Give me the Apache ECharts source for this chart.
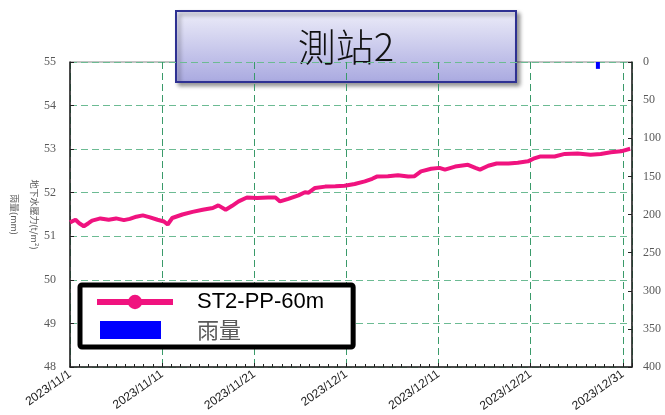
<!DOCTYPE html>
<html>
<head>
<meta charset="utf-8">
<script src="https://cdn.jsdelivr.net/npm/echarts@6/dist/echarts.min.js"></script>
<style>
  html, body { margin: 0; padding: 0; background: #fff; }
  #chart { width: 665px; height: 415px; }
</style>
</head>
<body>
<div id="chart"></div>
<script>
// days counted from 2023/11/1 00:00
var days = [0, 0.6, 1.0, 1.5, 2.0, 2.4, 3.3, 4.2, 5.0, 5.85, 6.5, 7.2, 7.9, 8.6, 9.5, 10.2, 10.6, 11.1,
  12.2, 13.3, 14.4, 15.5, 16.1, 16.9, 17.6, 18.3, 19.2, 20.3, 21.5, 22.3, 22.8, 23.7, 24.8, 25.5, 25.9,
  26.6, 27.7, 28.8, 29.8, 30.9, 32.0, 32.8, 33.3, 34.5, 35.6, 36.7, 37.4, 38.1, 39.2, 40.1, 40.7, 41.8,
  43.2, 44.0, 44.5, 45.4, 46.3, 47.6, 48.6, 49.7, 50.3, 51.0, 52.6, 53.7, 55.1, 56.5, 57.6, 58.7, 59.8, 60.8];
var pressure = [51.32, 51.38, 51.30, 51.23, 51.30, 51.36, 51.41, 51.38, 51.41, 51.37, 51.40, 51.45, 51.48, 51.44, 51.38, 51.34, 51.27, 51.42,
  51.50, 51.56, 51.61, 51.65, 51.71, 51.61, 51.70, 51.80, 51.89, 51.88, 51.89, 51.89, 51.80, 51.86, 51.94, 52.01, 52.00,
  52.11, 52.14, 52.15, 52.16, 52.20, 52.26, 52.32, 52.37, 52.38, 52.40, 52.37, 52.38, 52.49, 52.55, 52.57, 52.53, 52.60,
  52.64, 52.57, 52.53, 52.62, 52.67, 52.67, 52.69, 52.72, 52.78, 52.83, 52.83, 52.89, 52.90, 52.87, 52.89, 52.93, 52.95, 53.01];
var rainDays = [57.3];
var rainMm = [9];
var dateLabels = ['2023/11/1', '2023/11/11', '2023/11/21', '2023/12/1', '2023/12/11', '2023/12/21', '2023/12/31'];

var lineData = days.map(function (d, i) { return [d, pressure[i]]; });
var rainData = rainDays.map(function (d, i) { return [d, rainMm[i]]; });

var chart = echarts.init(document.getElementById('chart'));
var serif = '"Liberation Serif", "DejaVu Serif", serif';

var option = {
  backgroundColor: '#ffffff',
  animation: false,
  grid: { left: 70, right: 33, top: 62, bottom: 48, show: true, borderColor: '#888', borderWidth: 1,
    containLabel: false, outerBoundsMode: 'none' },
  legend: {
    orient: 'vertical',
    left: 80, top: 285,
    padding: [6, 29, 6, 14],
    itemWidth: 76, itemHeight: 18, itemGap: 6,
    backgroundColor: '#fff', borderColor: '#000', borderWidth: 5, borderRadius: 2,
    textStyle: { fontSize: 22, fontFamily: '"Liberation Sans", Arial, "Noto Sans CJK TC"', padding: [0, 0, 0, 19] },
    data: [
      { name: 'ST2-PP-60m', lineStyle: { width: 6 }, textStyle: { color: '#000' } },
      { name: '雨量', icon: 'path://M0,0 M76,18 M3,0 L64,0 L64,18 L3,18 Z', textStyle: { color: '#595959', fontFamily: '"Noto Sans CJK TC"' } }
    ]
  },
  xAxis: {
    type: 'value', min: 0, max: 61, interval: 10,
    axisLine: { onZero: false, lineStyle: { color: '#222', width: 1.5 } },
    axisTick: { inside: true, length: 4, lineStyle: { color: '#222' } },
    minorTick: { show: true, splitNumber: 10, length: 3, lineStyle: { color: '#222' } },
    splitLine: { show: true, lineStyle: { color: '#3a9a6a', type: [7, 4], width: 1 } },
    axisLabel: {
      rotate: 35, margin: 6, fontSize: 12, color: '#222', fontFamily: '"Liberation Sans", Arial',
      formatter: function (v) { return v % 10 === 0 ? dateLabels[v / 10] : ''; }
    }
  },
  yAxis: [{
    type: 'value', min: 48, max: 55, interval: 1,
    name: '地下水壓力(t/m²)\n雨量(mm)', nameLocation: 'middle', nameRotate: -90, nameGap: 26,
    nameMoveOverlap: false,
    nameTextStyle: { fontSize: 9, color: '#595959', fontFamily: '"Noto Sans CJK TC"', lineHeight: 20 },
    axisLine: { show: true, lineStyle: { color: '#222', width: 1.5 } },
    axisTick: { show: true, inside: true, length: 4, lineStyle: { color: '#222' } },
    splitLine: { show: true, lineStyle: { color: '#6cbb93', type: [7, 4], width: 1 } },
    axisLabel: { fontSize: 12, color: '#595959', fontFamily: serif, margin: 14 }
  }, {
    type: 'value', min: 0, max: 400, interval: 50, inverse: true,
    axisLine: { show: true, lineStyle: { color: '#222', width: 1.5 } },
    axisTick: { show: true, inside: true, length: 4, lineStyle: { color: '#222' } },
    splitLine: { show: false },
    axisLabel: { fontSize: 12, color: '#595959', fontFamily: serif, margin: 11 }
  }],
  series: [{
    name: 'ST2-PP-60m', type: 'line', data: lineData,
    showSymbol: false, symbol: 'circle', symbolSize: 12,
    itemStyle: { color: '#f0137f' },
    lineStyle: { color: '#f0137f', width: 4 },
    z: 3
  }, {
    name: '雨量', type: 'bar', yAxisIndex: 1, data: rainData, barWidth: 4,
    itemStyle: { color: '#0000ff' }
  }],
  graphic: [{
    type: 'group', z: 100,
    children: [{
      type: 'rect', shape: { x: 176, y: 11, width: 340, height: 71 },
      style: {
        fill: { type: 'linear', x: 0, y: 0, x2: 0, y2: 1, colorStops: [
          { offset: 0, color: '#ededf9' }, { offset: 1, color: '#a9a9e0' }] },
        stroke: '#2e3192', lineWidth: 2,
        shadowBlur: 4, shadowOffsetX: 3, shadowOffsetY: 3, shadowColor: 'rgba(0,0,0,0.4)'
      }
    }, {
      type: 'text', x: 346, y: 47,
      style: { text: '測站2', font: '300 38px "Noto Sans CJK TC"', fill: '#111', align: 'center', verticalAlign: 'middle' }
    }]
  }]
};
chart.setOption(option);
</script>
</body>
</html>
